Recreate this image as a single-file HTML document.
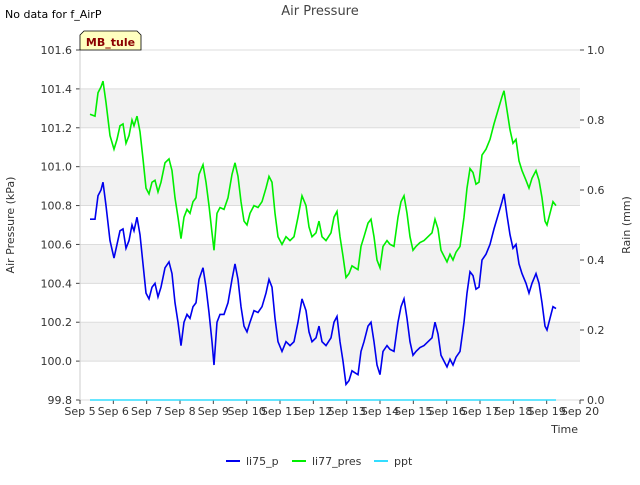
<!DOCTYPE html>
<html><head><meta charset="utf-8"><style>
body{margin:0;background:#fff;font-family:"Liberation Sans","DejaVu Sans",sans-serif}
svg text{font-family:"DejaVu Sans","Liberation Sans",sans-serif}
</style></head><body>
<svg id="chart" width="640" height="480" viewBox="0 0 640 480">
<g id="bands"></g><g id="grid"></g>
<text x="5" y="18" font-size="11" fill="#000">No data for f_AirP</text>
<text x="320" y="15" font-size="13" fill="#444" text-anchor="middle">Air Pressure</text>
<g id="axes"></g>
<g id="series"></g>
<g><path d="M80,50 L80,35 L84,31 L137,31 L141,35 L141,50 Z" fill="#ffffc0" stroke="#000" stroke-width="0.8"/>
<text x="110.5" y="46" font-size="11" font-weight="bold" fill="#8b0000" text-anchor="middle">MB_tule</text></g>
<text x="14" y="225" font-size="11" fill="#333" text-anchor="middle" transform="rotate(-90 14 225)">Air Pressure (kPa)</text>
<text x="630" y="225" font-size="11" fill="#333" text-anchor="middle" transform="rotate(-90 630 225)">Rain (mm)</text>
<text x="578" y="433" font-size="11" fill="#333" text-anchor="end">Time</text>
<g>
<g><line x1="226" y1="461" x2="240" y2="461" stroke="#0000ee" stroke-width="2"/><text x="246" y="465" font-size="11" fill="#333">li75_p</text></g>
<g><line x1="292" y1="461" x2="306" y2="461" stroke="#00ee00" stroke-width="2"/><text x="312" y="465" font-size="11" fill="#333">li77_pres</text></g>
<g><line x1="374" y1="461" x2="388" y2="461" stroke="#33ddff" stroke-width="2"/><text x="394" y="465" font-size="11" fill="#333">ppt</text></g>
</g>
</svg>
<script>
const days=[0.30,0.45,0.54,0.63,0.69,0.78,0.90,1.02,1.11,1.20,1.29,1.38,1.47,1.56,1.62,1.71,1.80,1.89,1.98,2.07,2.16,2.25,2.34,2.43,2.55,2.67,2.76,2.85,2.94,3.03,3.12,3.21,3.30,3.39,3.48,3.57,3.69,3.78,3.87,3.96,4.02,4.11,4.20,4.32,4.44,4.56,4.65,4.74,4.83,4.92,5.01,5.10,5.22,5.34,5.46,5.58,5.67,5.76,5.85,5.94,6.06,6.18,6.30,6.42,6.54,6.66,6.78,6.87,6.96,7.08,7.17,7.26,7.38,7.53,7.62,7.71,7.80,7.89,7.98,8.07,8.16,8.25,8.34,8.43,8.52,8.64,8.73,8.82,8.91,9.00,9.09,9.21,9.30,9.42,9.54,9.63,9.72,9.81,9.90,9.99,10.08,10.20,10.32,10.44,10.56,10.65,10.74,10.83,10.92,11.01,11.10,11.19,11.28,11.40,11.52,11.61,11.70,11.79,11.88,11.97,12.06,12.18,12.30,12.42,12.54,12.66,12.72,12.81,12.90,12.99,13.08,13.17,13.26,13.38,13.47,13.56,13.68,13.77,13.86,13.95,14.01,14.10,14.19,14.28];
const li75=[100.73,100.73,100.85,100.88,100.92,100.80,100.62,100.53,100.60,100.67,100.68,100.58,100.62,100.70,100.67,100.74,100.65,100.50,100.35,100.32,100.38,100.40,100.33,100.38,100.48,100.51,100.45,100.30,100.20,100.08,100.20,100.24,100.22,100.28,100.30,100.42,100.48,100.38,100.25,100.10,99.98,100.20,100.24,100.24,100.30,100.42,100.50,100.42,100.28,100.18,100.15,100.20,100.26,100.25,100.28,100.35,100.42,100.38,100.22,100.10,100.05,100.10,100.08,100.10,100.20,100.32,100.26,100.15,100.10,100.12,100.18,100.10,100.08,100.12,100.20,100.23,100.10,100.00,99.88,99.90,99.95,99.94,99.93,100.05,100.10,100.18,100.20,100.10,99.98,99.93,100.05,100.08,100.06,100.05,100.20,100.28,100.32,100.22,100.10,100.03,100.05,100.07,100.08,100.10,100.12,100.20,100.14,100.03,100.00,99.97,100.01,99.98,100.02,100.05,100.20,100.35,100.46,100.44,100.37,100.38,100.52,100.55,100.60,100.68,100.75,100.82,100.86,100.75,100.65,100.58,100.60,100.50,100.45,100.40,100.35,100.40,100.45,100.40,100.30,100.18,100.16,100.22,100.28,100.27];
const li77=[101.27,101.26,101.38,101.41,101.44,101.33,101.16,101.09,101.14,101.21,101.22,101.12,101.16,101.24,101.21,101.26,101.18,101.04,100.89,100.86,100.92,100.93,100.87,100.92,101.02,101.04,100.98,100.84,100.74,100.63,100.74,100.78,100.76,100.82,100.84,100.96,101.01,100.92,100.80,100.66,100.57,100.76,100.79,100.78,100.84,100.96,101.02,100.95,100.82,100.72,100.70,100.76,100.80,100.79,100.82,100.89,100.95,100.92,100.76,100.64,100.60,100.64,100.62,100.64,100.74,100.85,100.80,100.69,100.64,100.66,100.72,100.64,100.62,100.66,100.74,100.77,100.64,100.54,100.43,100.45,100.49,100.48,100.47,100.59,100.64,100.71,100.73,100.64,100.52,100.48,100.59,100.62,100.60,100.59,100.74,100.82,100.85,100.76,100.64,100.57,100.59,100.61,100.62,100.64,100.66,100.73,100.68,100.57,100.54,100.51,100.55,100.52,100.56,100.59,100.74,100.89,100.99,100.97,100.91,100.92,101.06,101.09,101.14,101.22,101.29,101.36,101.39,101.29,101.19,101.12,101.14,101.03,100.98,100.93,100.89,100.94,100.98,100.93,100.84,100.72,100.70,100.76,100.82,100.80];
const pptDays=[0.3,14.28];
const ppt=[0,0];
const leftTicks=["99.8","100.0","100.2","100.4","100.6","100.8","101.0","101.2","101.4","101.6"];
const rightTicks=["0.0","0.2","0.4","0.6","0.8","1.0"];
const xTicks=["Sep 5","Sep 6","Sep 7","Sep 8","Sep 9","Sep 10","Sep 11","Sep 12","Sep 13","Sep 14","Sep 15","Sep 16","Sep 17","Sep 18","Sep 19","Sep 20"];
const NS="http://www.w3.org/2000/svg";
const L=80,R=580,T=50,B=400;
const xs=d=>L+d*(R-L)/15;
const ys=v=>B-(v-99.8)*(B-T)/1.8;
const y2=v=>B-v*(B-T)/1.0;
function mk(tag,attrs,parent){const e=document.createElementNS(NS,tag);for(const k in attrs)e.setAttribute(k,attrs[k]);document.getElementById(parent).appendChild(e);return e;}
for(let i=0;i<leftTicks.length-1;i++){const v=parseFloat(leftTicks[i]);
 if(i%2===1){const r=mk('rect',{x:L,y:ys(v+0.2),width:R-L,height:ys(v)-ys(v+0.2),fill:'#f2f2f2'},'bands');
 
 }}
leftTicks.forEach(t=>{const y=ys(parseFloat(t));
 const g=mk('line',{x1:L,x2:R,y1:y,y2:y,stroke:'#dcdcdc','stroke-width':1},'grid');
 
 
 mk('line',{x1:L-4,x2:L,y1:y,y2:y,stroke:'#444'},'axes');
 const tx=mk('text',{x:L-8,y:y+4,'font-size':11,fill:'#333','text-anchor':'end'},'axes');tx.textContent=t;
 
 });
rightTicks.forEach(t=>{const y=y2(parseFloat(t));
 mk('line',{x1:R,x2:R+4,y1:y,y2:y,stroke:'#444'},'axes');
 const tx=mk('text',{x:R+7,y:y+4,'font-size':11,fill:'#333'},'axes');tx.textContent=t;
 
 });
xTicks.forEach((t,i)=>{const x=xs(i);
 mk('line',{x1:x,x2:x,y1:B,y2:B+4,stroke:'#444'},'axes');
 const tx=mk('text',{x:x,y:B+15,'font-size':11,fill:'#333','text-anchor':'middle'},'axes');tx.textContent=t;
 
 });
const ax=mk('line',{x1:L,x2:L,y1:T,y2:B,stroke:'#ccc'},'axes');


function line(xd,yd,sc,col,name){const p=mk('polyline',{points:xd.map((d,i)=>xs(d).toFixed(1)+','+sc(yd[i]).toFixed(1)).join(' '),fill:'none',stroke:col,'stroke-width':1.6},'series');
 
 }
line(pptDays,ppt,y2,'#33ddff','ppt-line');
line(days,li77,ys,'#00ee00','li77-pres-line');
line(days,li75,ys,'#0000ee','li75-p-line');
</script>
</body></html>
